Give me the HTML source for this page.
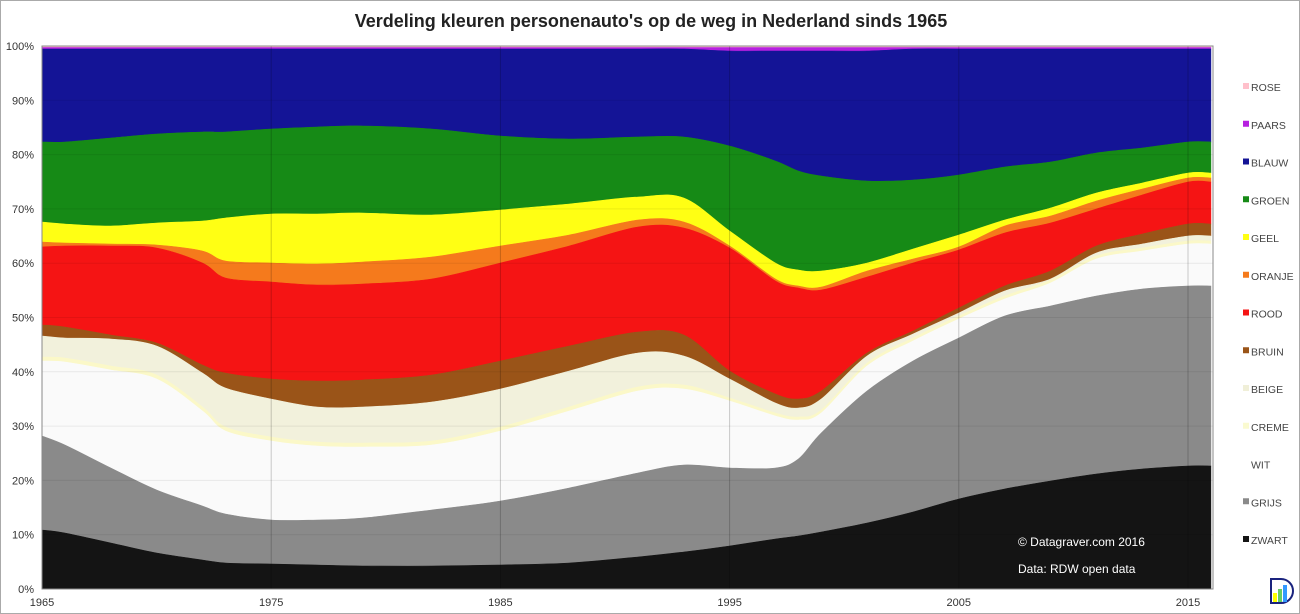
<!DOCTYPE html>
<html><head><meta charset="utf-8"><style>
body{margin:0;background:#fff;}
#w{position:relative;width:1298px;height:612px;border:1px solid #aaa;overflow:hidden;font-family:"Liberation Sans",sans-serif;}
</style></head><body><div id="w">
<svg id="s" width="1298" height="612" xmlns="http://www.w3.org/2000/svg" style="position:absolute;left:0;top:0">
<text x="650" y="26" text-anchor="middle" font-size="18" font-weight="bold" fill="#222">Verdeling kleuren personenauto's op de weg in Nederland sinds 1965</text>
<g id="areas"></g>
<g id="grid"></g>
<rect x="41" y="45" width="1171" height="543" fill="none" stroke="#888" stroke-width="1"/>
<g font-size="11" fill="#333" text-anchor="end" id="yl"></g>
<g font-size="11" fill="#333" text-anchor="middle" id="xl"></g>
<text x="1017" y="545" font-size="12" fill="#fff">© Datagraver.com 2016</text>
<text x="1017" y="572" font-size="12" fill="#fff">Data: RDW open data</text>
<g font-size="10.5" fill="#444" id="lg"></g>
<g transform="translate(1270,578)"><path d="M0,0 h10 a12,12 0 0 1 0,24 h-10z" fill="#fff" stroke="#1a237e" stroke-width="2"/><rect x="2" y="14" width="4" height="9" fill="#ff0"/><rect x="7" y="10" width="4" height="13" fill="#6c6"/><rect x="12" y="6" width="4" height="17" fill="#39f"/></g>
</svg>
<script>
const yrs=[1965,1966,1968,1970,1972,1973,1975,1977,1979,1982,1985,1988,1991,1993,1995,1997,1998,1999,2001,2003,2005,2007,2009,2011,2013,2015,2016];
const X=y=>41+(y-1965)*22.92;
const Z=[529,532,542,552,559,562,563,564,565,565,564,562,556,551,545,538,535,531,522,511,498,488,480,473,468,465,465];
const G=[435,444,467,489,505,513,519,519,517,509,500,487,472,464,467,467,458,432,390,360,337,315,305,295,288,285,285];
const W=[360,361,369,378,410,430,440,445,446,444,430,410,390,388,400,415,419,412,365,340,318,298,282,258,250,243,243];
const C=W.map((v,i)=>v-(i<14?4:3));
const B=[335,337,338,345,372,387,398,406,406,401,388,370,352,355,378,402,407,398,355,333,312,290,278,252,243,235,235];
const Br=[324,326,334,342,364,372,378,380,379,374,360,345,331,334,370,393,398,390,352,330,307,285,270,245,233,223,223];
const R=[246,245,245,247,262,277,281,284,283,278,262,245,226,227,247,280,287,289,276,262,249,232,222,208,194,181,181];
const O=[241,242,243,244,250,260,262,263,261,256,245,234,219,221,245,278,285,286,270,258,246,225,215,200,188,177,177];
const Y=[221,223,225,222,220,217,213,213,212,214,209,203,196,197,230,262,269,270,262,248,234,219,207,192,182,172,172];
const Gr=[141,141,137,133,131,131,128,126,125,128,135,138,136,136,145,160,170,175,180,179,174,166,161,152,147,141,141];
const Bl=yrs.map(y=>(y>1993&&y<2003)?50:48);
const P=yrs.map(()=>46.5);
const Ro=yrs.map(()=>45);
const bottom=yrs.map(()=>588);
function pts(a){return a.map((v,i)=>[X(yrs[i]),v]);}
function curve(p){let d='';for(let i=0;i<p.length-1;i++){const p0=p[i-1]||p[i],p1=p[i],p2=p[i+1],p3=p[i+2]||p2;
const c1=[p1[0]+(p2[0]-p0[0])/6,p1[1]+(p2[1]-p0[1])/6],c2=[p2[0]-(p3[0]-p1[0])/6,p2[1]-(p3[1]-p1[1])/6];
d+=` C${c1[0].toFixed(1)},${c1[1].toFixed(1)} ${c2[0].toFixed(1)},${c2[1].toFixed(1)} ${p2[0].toFixed(1)},${p2[1].toFixed(1)}`;}return d;}
const layers=[[Ro,P,'#ffc0cb'],[P,Bl,'#b620e0'],[Bl,Gr,'#141496'],[Gr,Y,'#168a16'],[Y,O,'#ffff14'],[O,R,'#f57a1c'],[R,Br,'#f51414'],[Br,B,'#9a5418'],[B,C,'#f2f1dc'],[C,W,'#fbf8c8'],[W,G,'#fafafa'],[G,Z,'#8a8a8a'],[Z,bottom,'#141414']];
let h='';
for(const [t,b,c] of layers){const pt=pts(t),pb=pts(b).reverse();
h+=`<path d="M${pt[0][0]},${pt[0][1]}${curve(pt)} L${pb[0][0]},${pb[0][1]}${curve(pb)}Z" fill="${c}" stroke="${c}" stroke-width="0.6"/>`;}
document.getElementById('areas').innerHTML=h;
let g='',yl='',xl='';
for(let i=0;i<=10;i++){const y=588-i*54.3;g+=`<line x1="41" x2="1212" y1="${y}" y2="${y}" stroke="rgba(0,0,0,0.07)"/>`;yl+=`<text x="33" y="${y+4}">${i*10}%</text>`;}
for(let yr=1965;yr<=2015;yr+=10){const x=X(yr);if(yr>1965)g+=`<line x1="${x}" x2="${x}" y1="45" y2="588" stroke="rgba(0,0,0,0.2)"/>`;xl+=`<text x="${x}" y="605">${yr}</text>`;}
document.getElementById('grid').innerHTML=g;document.getElementById('yl').innerHTML=yl;document.getElementById('xl').innerHTML=xl;
const L=[['ROSE','#ffc0cb'],['PAARS','#b620e0'],['BLAUW','#141496'],['GROEN','#168a16'],['GEEL','#ffff14'],['ORANJE','#f57a1c'],['ROOD','#f51414'],['BRUIN','#9a5418'],['BEIGE','#f0efd8'],['CREME','#fafad0'],['WIT','#ffffff'],['GRIJS','#8a8a8a'],['ZWART','#141414']];
let lg='';L.forEach((l,i)=>{const y=87+i*37.75;lg+=`<rect x="1242" y="${y-5}" width="6" height="6" fill="${l[1]}"/><text x="1250" y="${y+3}">${l[0]}</text>`;});
document.getElementById('lg').innerHTML=lg;
</script>
</div></body></html>
